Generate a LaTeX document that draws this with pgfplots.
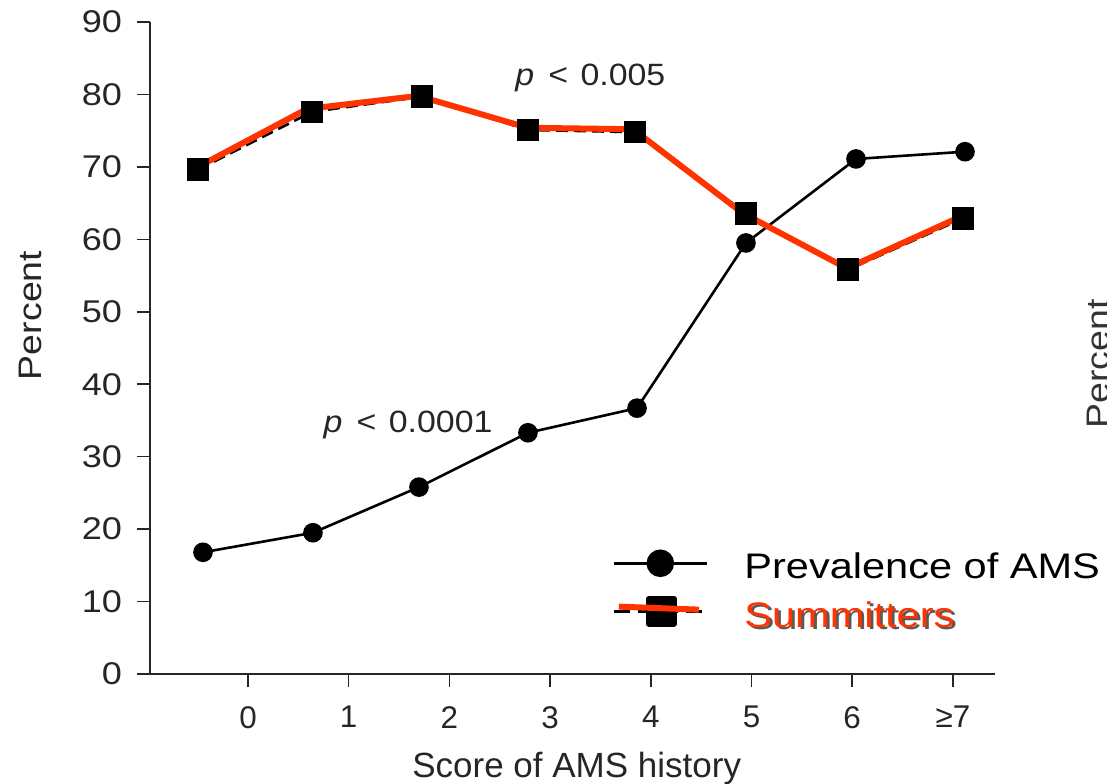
\documentclass[border=0pt]{standalone}
\usepackage{fontspec}
\setmainfont{Liberation Sans}
\newfontfamily\wide{Liberation Sans}[FakeStretch=1.17]
\newfontfamily\widey{Liberation Sans}[FakeStretch=1.15]
\newfontfamily\widep{Liberation Sans}[FakeStretch=1.1]
\usepackage{pgfplots}
\pgfplotsset{compat=1.18}
\definecolor{sumred}{RGB}{255,51,0}
\begin{document}
\begin{tikzpicture}
\useasboundingbox (0,0) rectangle (553.5pt,391.5pt);
\begin{axis}[
  at={(75pt,54.5pt)}, anchor=south west,
  scale only axis, width=422.5pt, height=326pt,
  xmin=-0.973, xmax=7.418, ymin=0, ymax=90,
  axis x line*=bottom, axis y line*=left,
  axis line style={-, line width=0.9pt, black!85},
  xtick={0,...,7}, xticklabels={0,1,2,3,4,5,6,≥7},
  ytick={0,10,...,90},
  tick align=outside, major tick length=6.5pt,
  tick style={line width=0.8pt, black!85},
  /pgf/number format/assume math mode=true,
  xticklabel style={font=\fontsize{15.7}{18}\selectfont, text=black!85, yshift=-6pt},
  yticklabel style={font=\widey\fontsize{15.7}{18}\selectfont, text=black!85, xshift=-4pt},
  xlabel={Score of AMS history},
  xlabel style={font=\fontsize{17.5}{20}\selectfont, text=black!85, at={(rel axis cs:0.505,0)}, anchor=base, yshift=-51.5pt},
  ylabel={Percent},
  ylabel style={font=\widey\fontsize{16.3}{19}\selectfont, text=black!85, at={(rel axis cs:-0.142,0.55)}, anchor=center},
  clip=false,
  legend cell align=left,
  legend style={draw=none, fill=none, at={(rel axis cs:0.547,0.191)}, anchor=north west,
    inner sep=0pt, outer sep=0pt, font=\wide\fontsize{17.75}{20}\selectfont,
    nodes={inner sep=0pt}, row sep=7pt, column sep=18pt},
]
\addplot[black, line width=1.3pt, mark=*, mark size=4.25pt,
  legend image code/.code={\draw[black,line width=1.6pt] (0pt,2pt) -- (46.5pt,2pt); \fill[black] (23.25pt,2pt) circle (6.25pt);}]
  coordinates {(-0.447,16.8) (0.645,19.5) (1.698,25.8) (2.78,33.3) (3.863,36.7) (4.945,59.5) (6.038,71.1) (7.12,72.1)};
\addlegendentry{Prevalence of AMS}
\addplot[black, line width=1.3pt, dash pattern=on 6pt off 3pt, mark=square*, mark size=5pt, mark options={solid}, forget plot]
  coordinates {(-0.497,69.6) (0.636,77.6) (1.728,79.7) (2.78,75.1) (3.843,74.8) (4.945,63.6) (5.958,55.8) (7.10,62.9)};
\addplot[sumred, line width=3pt, line join=round,
  legend image code/.code={\draw[black,line width=1.6pt,dash pattern=on 8pt off 4pt] (0pt,2pt) -- (46.5pt,2pt); \fill[black] (17.5pt,-4pt) rectangle (30pt,8.5pt); \draw[sumred,line width=3pt] (2.5pt,4.5pt) -- (42.5pt,3pt);}]
  coordinates {(-0.497,70.0) (0.586,78.0) (1.688,79.8) (2.78,75.4) (3.823,75.2) (4.915,63.6) (5.948,56.0) (7.04,62.9)};
\addlegendentry{\rlap{\hspace{1.3pt}\raisebox{-1.3pt}{\textcolor{black!65}{Summitters}}}\textcolor{sumred}{Summitters}}
\node[anchor=base, font=\widep\fontsize{15.4}{18}\selectfont, text=black!85] at (axis cs:3.40,81.3) {\textit{p}\hspace{0.15em} < \hspace{0.1em}0.005};
\node[anchor=base, font=\widep\fontsize{15.4}{18}\selectfont, text=black!85] at (axis cs:1.59,33.4) {\textit{p}\hspace{0.15em} < \hspace{0.1em}0.0001};
\end{axis}
\node[rotate=90, anchor=north, inner sep=0pt, font=\widey\fontsize{16.3}{19}\selectfont, text=black!80] at (543.5pt,209.5pt) {Percent};
\end{tikzpicture}
\end{document}
